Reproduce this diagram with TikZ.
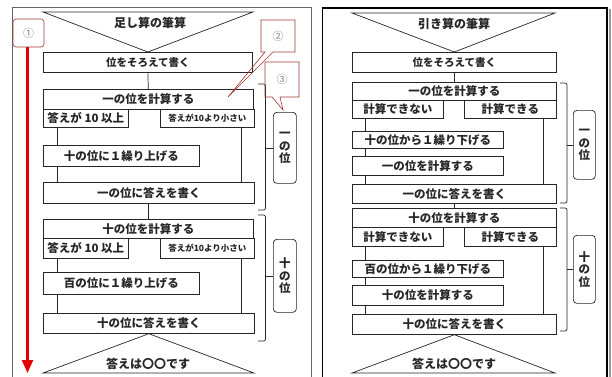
\documentclass[tikz,border=0pt]{standalone}
\usepackage{fontspec}
\setmainfont{Noto Sans CJK JP}
\usetikzlibrary{arrows.meta}
\begin{document}
\begin{tikzpicture}[x=1pt,y=-1pt,
  box/.style={draw=black!85, line width=0.7pt, anchor=north west, inner sep=0pt,
    font=\fontsize{11.5}{12}\selectfont\bfseries, text=black!85},
  smalltext/.style={font=\fontsize{8.5}{10}\selectfont\bfseries},
  link/.style={draw=black!85, line width=0.7pt},
  tri/.style={draw=black!85, line width=0.7pt},
  brk/.style={draw=black!85, line width=0.7pt, rounded corners=2pt},
  lbl/.style={draw=black!85, line width=0.7pt, rounded corners=3.5pt, anchor=north west,
    inner sep=0pt, align=center, font=\fontsize{11.5}{12.5}\selectfont\bfseries, text=black!85},
  ttl/.style={font=\fontsize{12}{13}\selectfont\bfseries, text=black!85},
  callbox/.style={draw=red!55!black!80, line width=0.6pt},
  calltext/.style={font=\fontsize{11}{12}\selectfont, text=black!50},
  redarrow/.style={draw=red!90!black, line width=2.4pt, -{Triangle[length=13pt,width=11pt]}},
]
\useasboundingbox (0,0) rectangle (612,376);
\fill[white] (0,0) rectangle (612,376);

% ---------- frames ----------
\draw[black!60, line width=0.7pt] (12,7) rectangle (311,390);
\draw[black, line width=1.6pt] (322.5,8) rectangle (607,390);
\draw[black!40, line width=1.2pt] (610,9) -- (610,390);

% ================= LEFT PANEL =================
\node[box, minimum width=209pt, minimum height=20pt, font=\fontsize{10.5}{12}\selectfont\bfseries] (a1) at (43,52) {位をそろえて書く};
\node[box, minimum width=210pt, minimum height=20pt] (b1) at (43,89) {一の位を計算する};
\node[box, minimum width=85pt, minimum height=18pt] (c1) at (43,109) {答えが 10 以上};
\node[box, smalltext, minimum width=94pt, minimum height=18pt] (d1) at (160,109) {答えが10より小さい};
\node[box, minimum width=156pt, minimum height=21pt] (e1) at (43,145) {十の位に１繰り上げる};
\node[box, minimum width=211pt, minimum height=21pt] (f1) at (43,182) {一の位に答えを書く};
\node[box, minimum width=210pt, minimum height=19pt] (b2) at (43,219) {十の位を計算する};
\node[box, minimum width=85pt, minimum height=20pt] (c2) at (43,238) {答えが 10 以上};
\node[box, smalltext, minimum width=94pt, minimum height=20pt] (d2) at (160,238) {答えが10より小さい};
\node[box, minimum width=156pt, minimum height=22pt] (e2) at (43,272) {百の位に１繰り上げる};
\node[box, minimum width=211pt, minimum height=20pt] (f2) at (43,313) {十の位に答えを書く};

% triangles and their texts
\draw[tri] (43,12) -- (253,12) -- (a1.north) -- cycle;
\node[ttl] (t1) at (150,23) {足し算の筆算};
\draw[tri] (f2.south) -- (254,373) -- (43,373) -- cycle;
\node[ttl] (z1) at (148,364) {答えは〇〇です};

% connectors
\draw[link] (a1.south) -- (b1.north);
\draw[link] (c1.south -| 57,0) -- (e1.north -| 57,0);
\draw[link] (e1.south -| 57,0) -- (f1.north -| 57,0);
\draw[link] (d1.south -| 241,0) -- (f1.north -| 241,0);
\draw[link] (f1.south -| b2.north) -- (b2.north);
\draw[link] (c2.south -| 57,0) -- (e2.north -| 57,0);
\draw[link] (e2.south -| 57,0) -- (f2.north -| 57,0);
\draw[link] (d2.south -| 241,0) -- (f2.north -| 241,0);

% brackets and labels
\node[lbl, minimum width=23pt, minimum height=71pt] (l1) at (273,112) {一\\の\\位};
\node[lbl, minimum width=23pt, minimum height=73pt] (l2) at (273,239) {十\\の\\位};
\draw[brk] (258,84) -- (265.5,84) -- (265.5,210) -- (258,210);
\draw[link] (265.5,0 |- l1.west) -- (l1.west);
\draw[brk] (258,215) -- (265.5,215) -- (265.5,341) -- (258,341);
\draw[link] (265.5,0 |- l2.west) -- (l2.west);

% red annotations
\node[callbox, rounded corners=3pt, minimum width=31pt, minimum height=28pt, inner sep=0pt] (n1) at (28.5,33) {};
\node[calltext] (n1t) at (n1.center) {①};
\coordinate (arrowend) at (27.5,373);
\draw[redarrow] (27.5,0 |- n1.south) -- (arrowend);

\coordinate (p2) at (228,97);
\draw[callbox] (261,20) -- (295,20) -- (295,52) -- (273,52) -- (p2) -- (265,52) -- (261,52) -- cycle;
\node[calltext] (n2) at (278,36) {②};
\coordinate (p3) at (283,110);
\draw[callbox] (265,62) -- (299,62) -- (299,97) -- (280,97) -- (p3) -- (272,97) -- (265,97) -- cycle;
\node[calltext] (n3) at (282,79) {③};

% ================= RIGHT PANEL =================
\node[box, minimum width=204pt, minimum height=20pt, font=\fontsize{10.5}{12}\selectfont\bfseries] (a2) at (352,52) {位をそろえて書く};
\node[box, minimum width=204pt, minimum height=18pt] (g1) at (352,82) {一の位を計算する};
\node[box, minimum width=91pt, minimum height=18pt] (h1) at (352,100) {計算できない};
\node[box, minimum width=92pt, minimum height=18pt] (i1) at (464,100) {計算できる};
\node[box, minimum width=151pt, minimum height=17pt] (j1) at (352,131) {十の位から１繰り下げる};
\node[box, minimum width=151pt, minimum height=19pt] (k1) at (352,156) {一の位を計算する};
\node[box, minimum width=204pt, minimum height=19pt] (m1) at (352,184) {一の位に答えを書く};
\node[box, minimum width=204pt, minimum height=19pt] (g2) at (352,208) {十の位を計算する};
\node[box, minimum width=91pt, minimum height=19pt] (h2) at (352,227) {計算できない};
\node[box, minimum width=92pt, minimum height=19pt] (i2) at (464,227) {計算できる};
\node[box, minimum width=151pt, minimum height=17pt] (j2) at (352,260) {百の位から１繰り下げる};
\node[box, minimum width=151pt, minimum height=20pt] (k2) at (352,285) {十の位を計算する};
\node[box, minimum width=204pt, minimum height=20pt] (m2) at (352,314) {十の位に答えを書く};

\draw[tri] (352,13) -- (555,13) -- (a2.north) -- cycle;
\node[ttl] (t2) at (454,24) {引き算の筆算};
\draw[tri] (m2.south) -- (555,373) -- (352,373) -- cycle;
\node[ttl] (z2) at (454,364) {答えは〇〇です};

\draw[link] (a2.south) -- (g1.north);
\draw[link] (h1.south -| 365,0) -- (j1.north -| 365,0);
\draw[link] (j1.south -| 365,0) -- (k1.north -| 365,0);
\draw[link] (k1.south -| 365,0) -- (m1.north -| 365,0);
\draw[link] (i1.south -| 543,0) -- (m1.north -| 543,0);
\draw[link] (m1.south) -- (g2.north);
\draw[link] (h2.south -| 365,0) -- (j2.north -| 365,0);
\draw[link] (j2.south -| 365,0) -- (k2.north -| 365,0);
\draw[link] (k2.south -| 365,0) -- (m2.north -| 365,0);
\draw[link] (i2.south -| 543,0) -- (m2.north -| 543,0);

\node[lbl, minimum width=22pt, minimum height=69pt] (r1) at (573,110) {一\\の\\位};
\node[lbl, minimum width=22pt, minimum height=68pt] (r2) at (573,235) {十\\の\\位};
\draw[brk] (560,83) -- (567,83) -- (567,203) -- (560,203);
\draw[link] (567,0 |- r1.west) -- (r1.west);
\draw[brk] (560,208) -- (567,208) -- (567,331) -- (560,331);
\draw[link] (567,0 |- r2.west) -- (r2.west);
\end{tikzpicture}
\end{document}
